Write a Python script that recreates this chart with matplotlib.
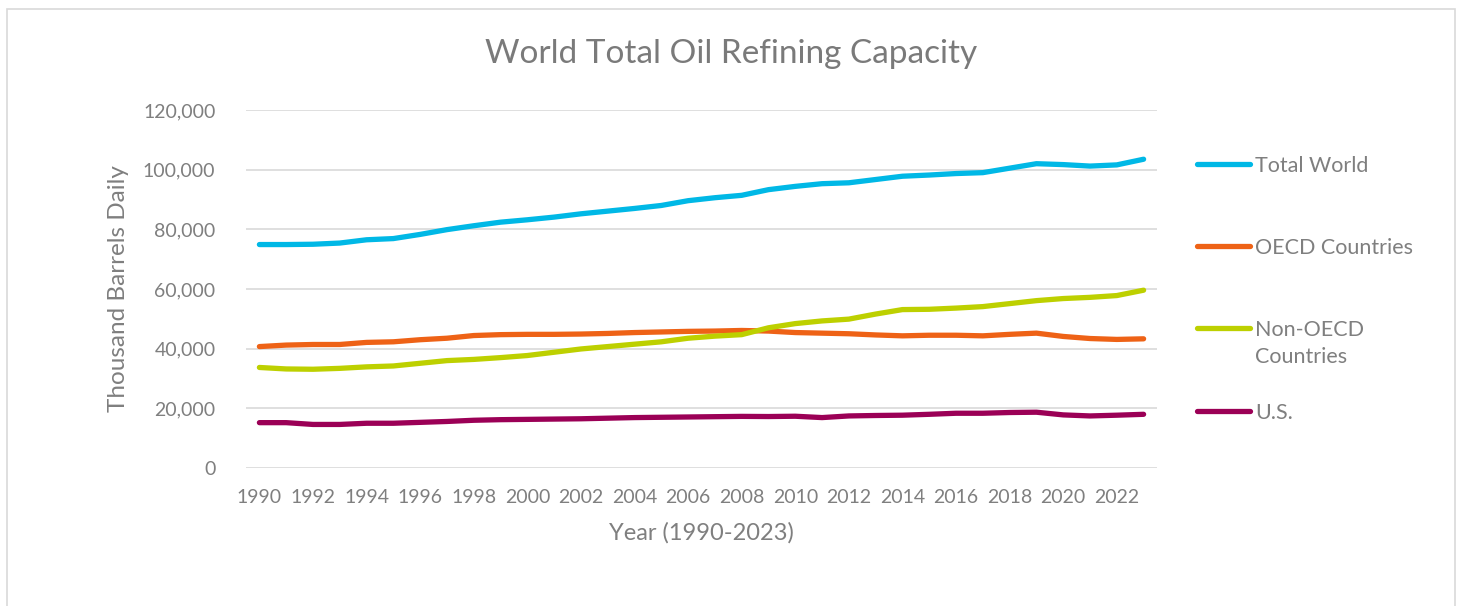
import matplotlib
matplotlib.use('Agg')
import matplotlib.pyplot as plt
from matplotlib.lines import Line2D
from matplotlib.patches import Rectangle
import matplotlib.ticker as mticker

plt.rcParams['font.family'] = ['Lato', 'DejaVu Sans']

years = list(range(1990, 2024))

total_world = [74900, 74900, 75000, 75400, 76500, 76900, 78300, 79900, 81200, 82400,
               83200, 84100, 85200, 86100, 87000, 88000, 89600, 90600, 91400, 93300,
               94400, 95300, 95600, 96700, 97800, 98200, 98700, 99000, 100500, 102000,
               101700, 101200, 101600, 103500]
oecd = [40700, 41200, 41400, 41400, 42100, 42300, 43000, 43500, 44400, 44700,
        44800, 44800, 44900, 45100, 45400, 45600, 45800, 45900, 46100, 45900,
        45400, 45200, 45000, 44600, 44300, 44500, 44500, 44300, 44800, 45200,
        44100, 43400, 43100, 43300]
non_oecd = [33700, 33200, 33100, 33400, 33900, 34200, 35100, 36000, 36400, 37000,
            37700, 38800, 39900, 40700, 41500, 42300, 43500, 44200, 44700, 47000,
            48400, 49300, 49900, 51600, 53100, 53200, 53600, 54100, 55100, 56100,
            56800, 57200, 57800, 59600]
us = [15200, 15200, 14600, 14600, 15000, 15000, 15300, 15600, 16000, 16200,
      16300, 16400, 16500, 16700, 16900, 17000, 17100, 17200, 17300, 17250,
      17350, 16900, 17450, 17600, 17700, 18000, 18350, 18350, 18600, 18700,
      17800, 17450, 17700, 18000]

series = [
    ('Total World', total_world, '#00b8e6'),
    ('OECD Countries', oecd, '#ee6216'),
    ('Non-OECD\nCountries', non_oecd, '#bdd000'),
    ('U.S.', us, '#9b0056'),
]

text_gray = '#7f7f7f'
grid_gray = '#d9d9d9'

fig = plt.figure(figsize=(14.61, 6.06), dpi=100)
fig.patches.append(Rectangle((7 / 1461, -0.05), 1448 / 1461, 1 - 9 / 606 + 0.05,
                             transform=fig.transFigure, fill=False,
                             edgecolor=grid_gray, lw=1.2))

ax = fig.add_axes([246 / 1461, 1 - 468 / 606, 911 / 1461, 358 / 606])

for name, vals, col in series:
    ax.plot(years, vals, color=col, lw=3.8, solid_capstyle='round',
            solid_joinstyle='round')

ax.set_xlim(1989.5, 2023.5)
ax.set_ylim(0, 120000)
ax.set_yticks(range(0, 120001, 20000))
ax.yaxis.set_major_formatter(mticker.FuncFormatter(lambda v, _: f'{v:,.0f}'))
ax.set_xticks(years[::2])
ax.grid(axis='y', color=grid_gray, lw=1.2)
ax.set_axisbelow(True)
for s in ax.spines.values():
    s.set_visible(False)
ax.tick_params(axis='both', length=0, colors=text_gray, labelsize=14)
ax.tick_params(axis='x', pad=15)
ax.tick_params(axis='y', pad=22)

ax.set_xlabel('Year (1990-2023)', fontsize=17, color=text_gray, labelpad=12)
ax.set_ylabel('Thousand Barrels Daily', fontsize=17.5, color=text_gray, labelpad=10)

fig.text(731 / 1461, 1 - 54 / 606, 'World Total Oil Refining Capacity',
         ha='center', va='center', fontsize=24, color='#7a7a7a')

# legend on the right
leg_y = [164, 246, 328, 411]
for (name, vals, col), y in zip(series, leg_y):
    fy = 1 - y / 606
    fig.add_artist(Line2D([1197 / 1461, 1250 / 1461], [fy, fy], color=col, lw=3.8,
                          solid_capstyle='round', transform=fig.transFigure))
    fig.text(1255 / 1461, fy + 0.013, name, ha='left', va='top', fontsize=15.5,
             color=text_gray, linespacing=1.45)

fig.savefig('out.png', dpi=100)
